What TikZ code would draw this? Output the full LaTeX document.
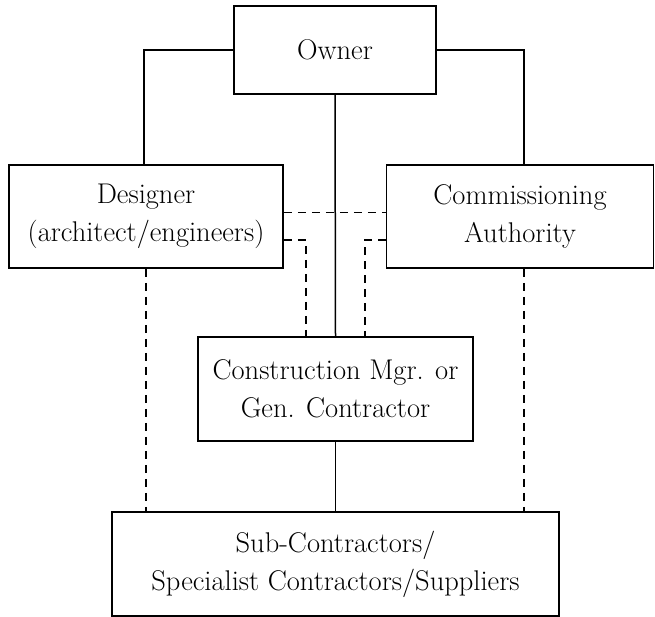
\documentclass[tikz,border=0pt]{standalone}
\usepackage{fontspec}
\begin{document}
\begin{tikzpicture}[x=1pt,y=-1pt,
  box/.style={draw,line width=1.8pt,rectangle,align=center,inner sep=0pt,
    font=\fontsize{28.5}{38}\selectfont},
  link/.style={line width=1.5pt},
  dlink/.style={line width=1.5pt,dash pattern=on 8pt off 6pt}]
\useasboundingbox (0,0) rectangle (655,617);
\node[box,minimum width=202pt,minimum height=88pt] (owner) at (335,50) {Owner};
\node[box,minimum width=274pt,minimum height=103pt] (des) at (146,216.5) {Designer\\(architect/engineers)};
\node[box,minimum width=267pt,minimum height=103pt] (comm) at (520,216.5) {Commissioning\\Authority};
\node[box,minimum width=275pt,minimum height=104pt] (cons) at (335.5,389) {Construction Mgr. or\\Gen. Contractor};
\node[box,minimum width=447pt,minimum height=104pt] (sub) at (335.5,564) {Sub-Contractors/\\Specialist Contractors/Suppliers};
\draw[link] (owner.west) -| ([xshift=-2pt]des.north);
\draw[link] (owner.east) -| ([xshift=4pt]comm.north);
\draw[link] (owner.south) -- (cons.north);
\draw[link] (cons.south) -- (sub.north);
\draw[dlink] ([yshift=4pt]des.east) -- ([yshift=4pt]comm.west);
\draw[dlink] ([yshift=-23.5pt]des.east) -| ([xshift=-29.5pt]cons.north);
\draw[dlink] ([yshift=-23.5pt]comm.west) -| ([xshift=29.5pt]cons.north);
\draw[dlink] (des.south) -- (des.south |- sub.north);
\draw[dlink] ([xshift=4pt]comm.south) -- ([xshift=4pt]comm.south |- sub.north);
\end{tikzpicture}
\end{document}
